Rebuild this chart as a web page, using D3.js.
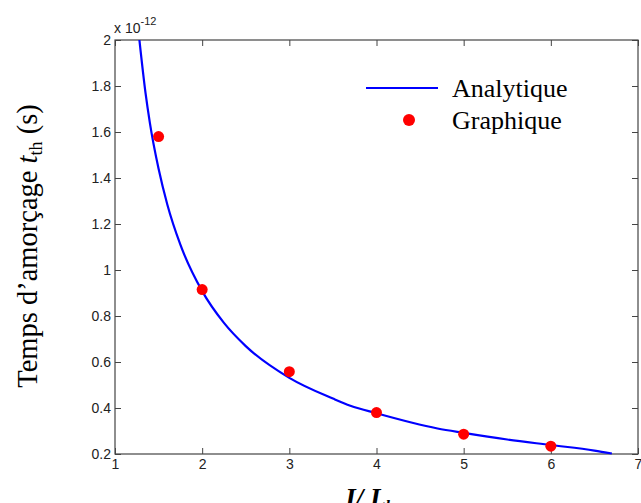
<!DOCTYPE html>
<html><head><meta charset="utf-8">
<script src="https://cdn.jsdelivr.net/npm/d3@7"></script>
<style>body{margin:0;background:#fff}svg{display:block}</style>
</head><body>
<svg id="c" width="641" height="503"></svg>
<script>
// Analytique curve (x = I/Ith, y in units of 1e-12 s)
const curveX = [1.28, 1.35, 1.4, 1.5, 1.6, 1.75, 2.0, 2.25, 2.5, 3.0, 3.5, 3.7, 4.0, 4.7, 5.0, 5.5, 6.0, 6.5, 6.7];
const curveY = [2.0, 1.77, 1.64, 1.44, 1.285, 1.11, 0.908, 0.77, 0.669, 0.531, 0.441, 0.41, 0.377, 0.311, 0.292, 0.263, 0.239, 0.215, 0.202];
// Graphique points
const ptsX = [1.5, 2, 3, 4, 5, 6];
const ptsY = [1.58, 0.915, 0.558, 0.38, 0.286, 0.234];
// ticks
const xTicks = [1, 2, 3, 4, 5, 6, 7];
const yTicks = [0.2, 0.4, 0.6, 0.8, 1, 1.2, 1.4, 1.6, 1.8, 2];
const legendLabels = ["Analytique", "Graphique"];

const svg = d3.select("#c");
const L = 115, R = 638, T = 40, B = 454;
const x = d3.scaleLinear().domain([1, 7]).range([L, R]);
const y = d3.scaleLinear().domain([0.2, 2]).range([B, T]);
const axisCol = "#444";
const tickFont = "'Liberation Sans', Arial, sans-serif";

// frame
svg.append("rect").attr("x", L).attr("y", T).attr("width", R - L).attr("height", B - T)
  .attr("fill", "none").attr("stroke", axisCol).attr("stroke-width", 1.2);

const fmt = d => d3.format("")(+d.toFixed(1));
function styleAxis(g) {
  g.select(".domain").remove();
  g.selectAll(".tick line").attr("stroke", axisCol).attr("stroke-width", 1);
  g.selectAll(".tick text").attr("fill", "#222").attr("font-family", tickFont).attr("font-size", 14);
}
svg.append("g").attr("transform", `translate(0,${B})`)
  .call(d3.axisBottom(x).tickValues(xTicks).tickSize(-6).tickPadding(5).tickFormat(d3.format("d")))
  .call(styleAxis);
svg.append("g").attr("transform", `translate(0,${T})`)
  .call(d3.axisTop(x).tickValues(xTicks).tickSize(-6).tickFormat(""))
  .call(styleAxis);
svg.append("g").attr("transform", `translate(${L},0)`)
  .call(d3.axisLeft(y).tickValues(yTicks).tickSize(-6).tickPadding(4).tickFormat(fmt))
  .call(styleAxis);
svg.append("g").attr("transform", `translate(${R},0)`)
  .call(d3.axisRight(y).tickValues(yTicks).tickSize(-6).tickFormat(""))
  .call(styleAxis);

// exponent
const ex = svg.append("text").attr("x", 114).attr("y", 33).attr("font-family", tickFont)
  .attr("font-size", 14).attr("fill", "#222");
ex.append("tspan").text("x 10");
ex.append("tspan").attr("dy", -8).attr("font-size", 11).text("-12");

// curve
const line = d3.line().x(d => x(d[0])).y(d => y(d[1])).curve(d3.curveMonotoneX);
svg.append("path").datum(curveX.map((v, i) => [v, curveY[i]]))
  .attr("d", line).attr("fill", "none").attr("stroke", "#0000ff").attr("stroke-width", 2.2);

// points
svg.selectAll("circle.pt").data(ptsX.map((v, i) => [v, ptsY[i]])).enter()
  .append("circle").attr("class", "pt")
  .attr("cx", d => x(d[0])).attr("cy", d => y(d[1])).attr("r", 5.5).attr("fill", "#ff0000");

// legend
const serif = "'Liberation Serif', 'Times New Roman', serif";
svg.append("line").attr("x1", 366).attr("x2", 438).attr("y1", 88).attr("y2", 88)
  .attr("stroke", "#0000ff").attr("stroke-width", 2.2);
svg.append("circle").attr("cx", 409).attr("cy", 120).attr("r", 6).attr("fill", "#ff0000");
svg.append("text").attr("x", 452).attr("y", 97).attr("font-family", serif).attr("font-size", 26)
  .attr("fill", "#000").text(legendLabels[0]);
svg.append("text").attr("x", 452).attr("y", 129).attr("font-family", serif).attr("font-size", 26)
  .attr("fill", "#000").text(legendLabels[1]);

// y label
const yl = svg.append("text").attr("transform", "translate(37,246) rotate(-90)")
  .attr("text-anchor", "middle").attr("font-family", serif).attr("font-size", 28.5).attr("fill", "#000");
yl.append("tspan").text("Temps d\u2019amorçage ");
yl.append("tspan").attr("font-style", "italic").text("t");
yl.append("tspan").attr("font-size", 18).attr("dy", 5).text("th");
yl.append("tspan").attr("dy", -5).text(" (s)");

// x label (cut off at bottom, as in the reference)
const xl = svg.append("text").attr("x", 370).attr("y", 507).attr("text-anchor", "middle")
  .attr("font-family", serif).attr("font-size", 27).attr("font-weight", "bold").attr("font-style", "italic").attr("fill", "#000");
xl.append("tspan").text("I/ I");
xl.append("tspan").attr("font-size", 17).attr("dy", 5).text("th");
</script>
</body></html>
